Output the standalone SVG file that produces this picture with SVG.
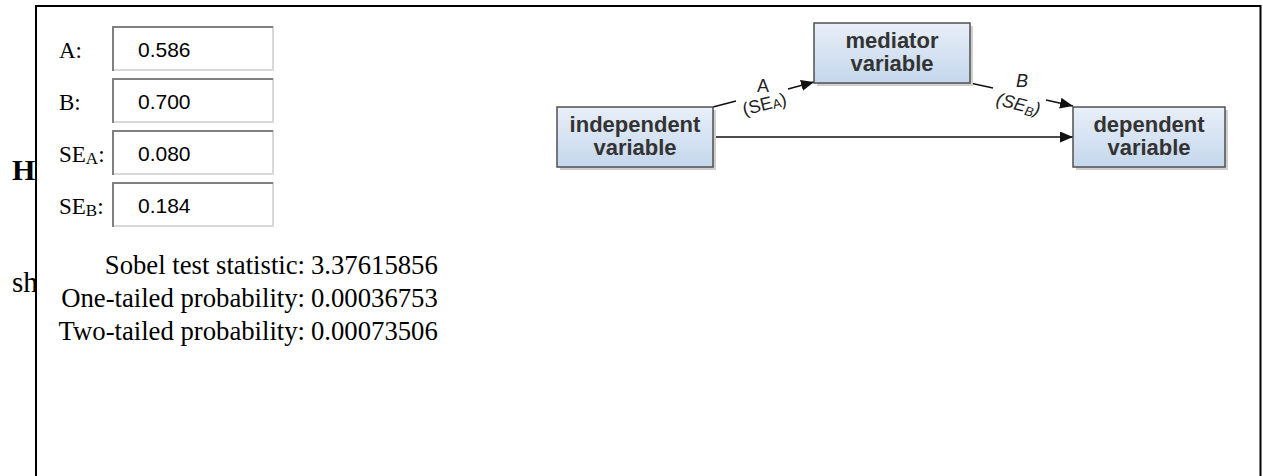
<svg xmlns="http://www.w3.org/2000/svg" width="1263" height="476" viewBox="0 0 1263 476">
<style>
.serif{font-family:"Liberation Serif","Times New Roman",serif;fill:#000}
.lbl{font-size:23px}
.res{font-size:26.7px}
.val{font-family:"Liberation Sans",Arial,sans-serif;font-size:21px;fill:#000}
.dark{stroke:#808080;stroke-width:2;fill:none}
.light{stroke:#d8d8d8;stroke-width:2;fill:none}
.node rect.box{fill:url(#g);stroke:#505050;stroke-width:1.5}
.node rect.sh{fill:#cfcfcf}
.node text{font-family:"Liberation Sans",Arial,sans-serif;font-weight:bold;font-size:22px;fill:#333;text-anchor:middle}
.edge{stroke:#111;stroke-width:1.6;fill:none}
.el{font-family:"Liberation Sans",Arial,sans-serif;font-size:18px;fill:#222;text-anchor:middle}
</style>
<defs>
<linearGradient id="g" x1="0" y1="0" x2="0" y2="1">
<stop offset="0" stop-color="#e8eff8"/>
<stop offset="1" stop-color="#c4d7ec"/>
</linearGradient>
<marker id="ah" viewBox="0 0 10 10" refX="10" refY="5" markerWidth="13" markerHeight="11" orient="auto" markerUnits="userSpaceOnUse" preserveAspectRatio="none">
<path d="M0,0 L10,5 L0,10 z" fill="#111"/>
</marker>
</defs>
<rect width="1263" height="476" fill="#fff"/>
<text class="serif" x="12" y="180" font-size="30" font-weight="bold">H</text>
<text class="serif" x="12" y="292" font-size="29">sh</text>
<rect id="panel" x="36" y="6" width="1224.5" height="500" fill="#fff" stroke="#000" stroke-width="2"/>

<g id="inputs">
<g id="inA">
<text class="serif lbl" x="59" y="58">A:</text>
<rect x="113" y="26" width="160" height="45" fill="#fff"/>
<path class="light" d="M113,70 H273 V26"/>
<path class="dark" d="M113,71 V27 H273"/>
<text class="val" x="138" y="57">0.586</text>
</g>
<g id="inB">
<text class="serif lbl" x="59" y="110">B:</text>
<rect x="113" y="78" width="160" height="45" fill="#fff"/>
<path class="light" d="M113,122 H273 V78"/>
<path class="dark" d="M113,123 V79 H273"/>
<text class="val" x="138" y="109">0.700</text>
</g>
<g id="inSEA">
<text class="serif lbl" x="59" y="162">SE<tspan font-size="17" dy="2">A</tspan><tspan dy="-2">:</tspan></text>
<rect x="113" y="130" width="160" height="45" fill="#fff"/>
<path class="light" d="M113,174 H273 V130"/>
<path class="dark" d="M113,175 V131 H273"/>
<text class="val" x="138" y="161">0.080</text>
</g>
<g id="inSEB">
<text class="serif lbl" x="59" y="214">SE<tspan font-size="17" dy="2">B</tspan><tspan dy="-2">:</tspan></text>
<rect x="113" y="182" width="160" height="45" fill="#fff"/>
<path class="light" d="M113,226 H273 V182"/>
<path class="dark" d="M113,227 V183 H273"/>
<text class="val" x="138" y="213">0.184</text>
</g>
</g>

<g id="results" class="serif res">
<text x="305" y="274" text-anchor="end">Sobel test statistic:</text>
<text x="311" y="274">3.37615856</text>
<text x="305" y="307" text-anchor="end">One-tailed probability:</text>
<text x="311" y="307">0.00036753</text>
<text x="305" y="340" text-anchor="end">Two-tailed probability:</text>
<text x="311" y="340">0.00073506</text>
</g>

<g id="connectors">
<line class="edge" x1="713" y1="137" x2="1073" y2="137" marker-end="url(#ah)"/>
<line class="edge" x1="713" y1="107" x2="736" y2="101"/>
<line class="edge" x1="788" y1="89" x2="814" y2="82" marker-end="url(#ah)"/>
<line class="edge" x1="970" y1="83" x2="993" y2="88"/>
<line class="edge" x1="1046" y1="100" x2="1073" y2="106" marker-end="url(#ah)"/>
<text class="el" x="763" y="92">A</text>
<text class="el" transform="translate(766,110) rotate(-14)">(SE<tspan font-size="13" dy="1">A</tspan><tspan dy="-1">)</tspan></text>
<text class="el" x="1022" y="87" font-style="italic">B</text>
<text class="el" transform="translate(1017,110) rotate(14)" font-style="italic">(SE<tspan font-size="13" dy="3">B</tspan><tspan dy="-3">)</tspan></text>
</g>

<g id="independent" class="node">
<rect class="sh" x="560" y="110" width="156" height="60"/>
<rect class="box" x="557" y="107" width="156" height="60"/>
<text x="635" y="132">independent</text>
<text x="635" y="155">variable</text>
</g>
<g id="mediator" class="node">
<rect class="sh" x="817" y="26" width="156" height="60"/>
<rect class="box" x="814" y="23" width="156" height="60"/>
<text x="892" y="48">mediator</text>
<text x="892" y="71">variable</text>
</g>
<g id="dependent" class="node">
<rect class="sh" x="1076" y="110" width="152" height="60"/>
<rect class="box" x="1073" y="107" width="152" height="60"/>
<text x="1149" y="132">dependent</text>
<text x="1149" y="155">variable</text>
</g>
</svg>
